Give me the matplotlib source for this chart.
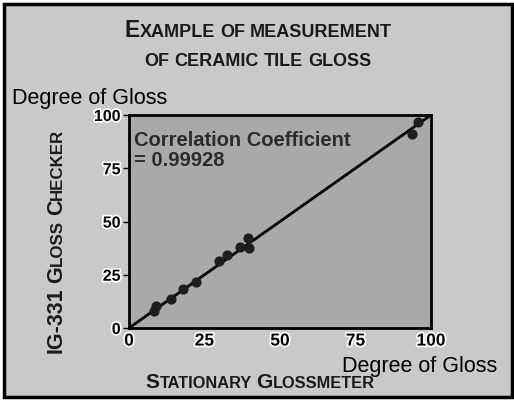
import numpy as np
import matplotlib
matplotlib.use('Agg')
import matplotlib.pyplot as plt
import matplotlib.patheffects as pe
from matplotlib.patches import Rectangle
from matplotlib.font_manager import FontProperties

plt.rcParams['font.family'] = ['Liberation Sans', 'DejaVu Sans']

# stationary glossmeter vs IG-331 readings
glossmeter = [8.3, 9.1, 13.8, 17.9, 22.1, 29.8, 32.5, 36.7, 39.3, 39.8, 93.6, 95.6]
checker = [7.8, 10.3, 13.7, 18.1, 21.4, 31.4, 34.5, 37.9, 42.1, 37.6, 91.0, 96.9]
fit_x = [0, 100]
fit_y = [0, 100]
ticks = [0, 25, 50, 75, 100]
corr_label = 'Correlation Coefficient\n= 0.99928'

W, H = 514, 402
fig = plt.figure(figsize=(W / 100, H / 100), dpi=100)
fig.patch.set_facecolor('white')

# outer panel
fig.patches.append(Rectangle((4 / W, 1 - 398 / H), 508 / W, 393 / H, transform=fig.transFigure,
                             facecolor='#c9c9c9', edgecolor='black', linewidth=2.5, zorder=-5))

ax = fig.add_axes([129 / W, 1 - 329 / H, 302 / W, 213 / H])
ax.set_zorder(1)
ax.set_facecolor('#a9a9a9')
ax.plot(fit_x, fit_y, color='black', linewidth=2, zorder=2)
ax.scatter(glossmeter, checker, s=40, color='#1e1e1e', zorder=3)
ax.set_xlim(0, 100)
ax.set_ylim(0, 100)
ax.set_xticks(ticks)
ax.set_yticks(ticks)
for s in ax.spines.values():
    s.set_linewidth(2)
ax.tick_params(axis='y', length=4, width=1, pad=2, labelsize=11.5)
ax.tick_params(axis='x', length=0, pad=4, labelsize=12.5)
halo = [pe.withStroke(linewidth=2.5, foreground='white')]
for lab in ax.get_xticklabels() + ax.get_yticklabels():
    lab.set_fontweight('bold')
    lab.set_path_effects(halo)

ax.text(1.5, 93, corr_label, fontsize=14.5, fontweight='bold', color='#2b2b2b',
        va='top', ha='left', linespacing=1.1, zorder=4)

fig.text(12 / W, 1 - 104 / H, 'Degree of Gloss', fontsize=15.5, va='baseline', ha='left')
fig.text(497 / W, 1 - 372 / H, 'Degree of Gloss', fontsize=15.5, va='baseline', ha='right')

renderer = fig.canvas.get_renderer()


def text_width(s, size):
    fp = FontProperties(family='Liberation Sans', weight='bold', size=size)
    w, _, _ = renderer.get_text_width_height_descent(s, fp, ismath=False)
    return w


def small_caps(words, cx, cy, big, small, rotation=0):
    # words: list of (capital part, rest) drawn as faux small caps
    parts = []
    space = text_width('I I', small) - text_width('II', small)
    for i, (cap, rest) in enumerate(words):
        if i > 0:
            parts.append((None, space))
        if cap:
            parts.append((cap, big))
        if rest:
            parts.append((rest, small))
    widths = [p[1] if p[0] is None else text_width(p[0], p[1]) for p in parts]
    pos = -sum(widths) / 2
    for (s, size), w in zip(parts, widths):
        if s is not None:
            if rotation == 0:
                x, y = cx + pos, cy
            else:
                x, y = cx, cy - pos
            fig.text(x / W, 1 - y / H, s, fontsize=size, fontweight='bold', color='#1a1a1a',
                     ha='left', va='baseline', rotation=rotation, rotation_mode='anchor')
        pos += w


small_caps([('E', 'XAMPLE'), ('', 'OF'), ('', 'MEASUREMENT')], 258, 37, 16.5, 13)
small_caps([('', 'OF'), ('', 'CERAMIC'), ('', 'TILE'), ('', 'GLOSS')], 258, 66, 16.5, 13)
small_caps([('S', 'TATIONARY'), ('G', 'LOSSMETER')], 260, 388, 15, 11.8)
small_caps([('IG-331', ''), ('G', 'LOSS'), ('C', 'HECKER')], 62, 241, 15.5, 12.2, rotation=90)

fig.savefig('out.png', dpi=100)
